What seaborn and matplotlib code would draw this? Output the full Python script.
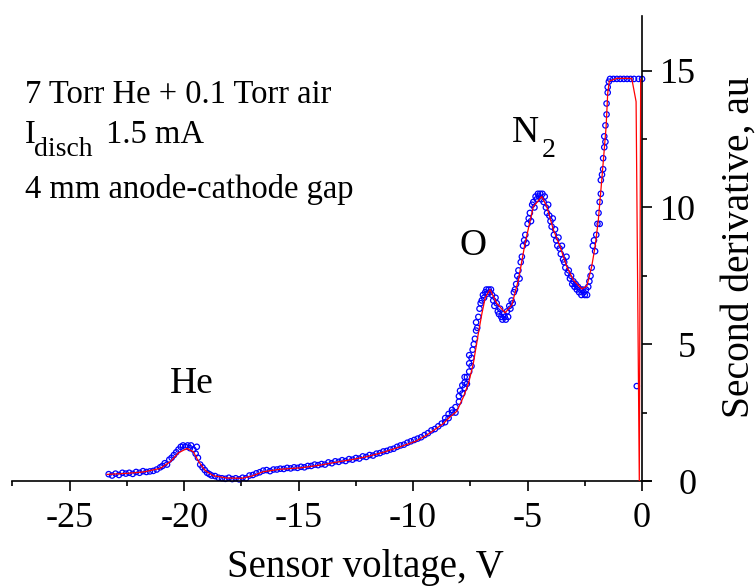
import matplotlib
matplotlib.use("Agg")
import matplotlib.pyplot as plt
from matplotlib.ticker import MultipleLocator
import seaborn as sns

# ---------------- data ----------------
# smoothed curve (red line)
red_v = [-23.38, -22.5, -21.78, -21.05, -20.6, -20.25, -19.88, -19.6, -19.37, -19.08,
         -18.72, -18.14, -17.48, -17.05, -16.54, -15.81, -14.93, -14.06, -13.48, -12.7,
         -12.02, -11.3, -10.57, -9.9, -9.4, -8.68, -8.38, -8.09, -7.8, -7.58,
         -7.37, -7.15, -7.0, -6.85, -6.64, -6.35, -5.98, -5.69, -5.4, -5.11,
         -4.75, -4.38, -4.16, -3.87, -3.58, -3.29, -3.0, -2.63, -2.41, -2.2,
         -2.05, -1.91, -1.76, -1.57, -1.5, -1.43, -1.1, -0.45, -0.26, -0.12, -0.06]
red_y = [0.24, 0.28, 0.33, 0.46, 0.71, 1.03, 1.19, 1.07, 0.71, 0.38,
         0.19, 0.11, 0.10, 0.18, 0.34, 0.43, 0.48, 0.58, 0.67, 0.78,
         0.89, 1.05, 1.25, 1.45, 1.68, 2.1, 2.35, 2.55, 3.08, 3.57,
         4.3, 5.4, 6.1, 6.7, 7.0, 6.5, 6.15, 6.43, 7.35, 8.69,
         10.03, 10.4, 10.03, 9.18, 8.57, 7.84, 7.35, 7.02, 7.13, 7.84,
         8.57, 9.54, 11.0, 12.95, 14.17, 14.62, 14.72, 14.72, 13.87, 0.0, 14.7]

# measured points (blue circles)
blue_v = [-23.3, -23.15, -23.0, -22.85, -22.7, -22.55, -22.4, -22.25, -22.1, -21.95,
          -21.8, -21.65, -21.5, -21.35, -21.2, -21.05, -20.95, -20.85, -20.75, -20.65,
          -20.55, -20.45, -20.35, -20.25, -20.15, -20.05, -19.95, -19.85, -19.75, -19.7,
          -19.6, -19.5, -19.45, -19.4, -19.3, -19.2, -19.1, -19.0, -18.9, -18.8,
          -18.65, -18.5, -18.35, -18.2, -18.05, -17.9, -17.75, -17.6, -17.45, -17.3,
          -17.15, -17.0, -16.85, -16.7, -16.55, -16.4, -16.25, -16.1, -15.95, -15.8,
          -15.65, -15.5, -15.35, -15.2, -15.05, -14.9, -14.75, -14.6, -14.45, -14.3,
          -14.15, -14.0, -13.85, -13.7, -13.55, -13.4, -13.25, -13.1, -12.95, -12.8,
          -12.65, -12.5, -12.35, -12.2, -12.05, -11.9, -11.75, -11.6, -11.45, -11.3,
          -11.15, -11.0, -10.85, -10.7, -10.55, -10.4, -10.25, -10.1, -9.95, -9.8,
          -9.65, -9.5, -9.35, -9.2, -9.05, -8.9, -8.75, -8.6, -8.6, -8.45,
          -8.45, -8.3, -8.3, -8.15, -8.15, -8.0, -8.0, -7.95, -7.85, -7.85,
          -7.75, -7.75, -7.75, -7.65, -7.65, -7.55, -7.55, -7.55, -7.45, -7.45,
          -7.4, -7.35, -7.3, -7.25, -7.25, -7.2, -7.15, -7.1, -7.05, -7.0,
          -6.95, -6.9, -6.85, -6.8, -6.75, -6.7, -6.65, -6.6, -6.55, -6.5,
          -6.45, -6.4, -6.35, -6.3, -6.25, -6.2, -6.15, -6.1, -6.05, -6.0,
          -5.95, -5.9, -5.85, -5.8, -5.75, -5.7, -5.65, -5.6, -5.55, -5.5,
          -5.45, -5.4, -5.35, -5.3, -5.25, -5.2, -5.15, -5.1, -5.05, -5.0,
          -4.95, -4.9, -4.85, -4.8, -4.75, -4.7, -4.65, -4.6, -4.55, -4.5,
          -4.45, -4.4, -4.35, -4.3, -4.25, -4.2, -4.15, -4.1, -4.05, -4.0,
          -3.95, -3.9, -3.85, -3.8, -3.75, -3.7, -3.65, -3.6, -3.55, -3.5,
          -3.45, -3.4, -3.35, -3.3, -3.25, -3.2, -3.15, -3.1, -3.05, -3.0,
          -2.95, -2.9, -2.85, -2.8, -2.75, -2.7, -2.65, -2.6, -2.55, -2.5,
          -2.45, -2.4, -2.35, -2.3, -2.25, -2.2, -2.15, -2.1, -2.05, -2.0,
          -1.95, -1.9, -1.85, -1.85, -1.8, -1.8, -1.75, -1.7, -1.7, -1.65,
          -1.65, -1.6, -1.6, -1.55, -1.55, -1.5, -1.5, -1.45, -1.4, -1.25,
          -1.1, -0.95, -0.8, -0.65, -0.5, -0.35, -0.23, -0.15, 0.0]
blue_y = [0.25, 0.2, 0.27, 0.22, 0.3, 0.27, 0.3, 0.26, 0.33, 0.3,
          0.36, 0.33, 0.35, 0.37, 0.42, 0.5, 0.55, 0.65, 0.6, 0.78,
          0.85, 0.95, 1.05, 1.15, 1.25, 1.3, 1.25, 1.3, 1.2, 1.3,
          1.15, 1.0, 1.25, 0.85, 0.6, 0.5, 0.4, 0.3, 0.25, 0.2,
          0.18, 0.12, 0.1, 0.08, 0.12, 0.07, 0.1, 0.06, 0.12, 0.1,
          0.2, 0.22, 0.28, 0.32, 0.38, 0.4, 0.36, 0.42, 0.42, 0.45,
          0.44, 0.48, 0.46, 0.5, 0.48, 0.52, 0.5, 0.55, 0.55, 0.6,
          0.58, 0.62, 0.6, 0.68, 0.65, 0.72, 0.7, 0.76, 0.73, 0.8,
          0.78, 0.84, 0.82, 0.9, 0.88, 0.95, 0.93, 1.0, 1.02, 1.08,
          1.1, 1.15, 1.18, 1.25, 1.3, 1.33, 1.4, 1.45, 1.5, 1.55,
          1.6, 1.68, 1.75, 1.85, 1.9, 2.0, 2.1, 2.3, 2.15, 2.45,
          2.3, 2.5, 2.6, 2.7, 2.5, 2.9, 3.1, 3.3, 3.2, 3.5,
          3.4, 3.6, 3.8, 3.8, 3.55, 4.0, 4.3, 4.6, 4.2, 4.5,
          4.8, 5.0, 5.2, 5.5, 5.8, 5.6, 6.0, 6.3, 6.5, 6.6,
          6.8, 6.7, 6.9, 7.0, 6.85, 7.0, 6.9, 7.0, 6.8, 6.6,
          6.4, 6.7, 6.5, 6.2, 6.1, 6.3, 6.0, 5.9, 6.1, 6.0,
          5.9, 6.2, 6.0, 6.4, 6.3, 6.6, 6.5, 6.9, 7.0, 7.2,
          7.5, 7.7, 7.4, 8.0, 8.2, 8.6, 8.8, 9.0, 8.7, 9.4,
          9.6, 9.8, 9.5, 10.1, 10.2, 10.0, 10.4, 10.3, 10.5, 10.4,
          10.5, 10.3, 10.5, 10.2, 10.4, 10.0, 9.8, 10.1, 9.7, 9.5,
          9.3, 9.6, 9.0, 9.2, 8.8, 8.6, 8.9, 8.5, 8.3, 8.6,
          8.1, 8.0, 7.8, 8.2, 7.6, 7.7, 7.4, 7.5, 7.2, 7.3,
          7.1, 7.2, 7.0, 7.1, 6.9, 7.0, 6.8, 7.0, 6.9, 6.8,
          7.0, 6.8, 7.1, 7.3, 7.5, 7.8, 8.6, 8.8, 8.4, 9.0,
          9.4, 9.8, 10.2, 9.4, 10.5, 11.0, 11.2, 11.8, 11.4, 12.2,
          12.6, 13.0, 12.4, 13.4, 13.8, 14.2, 14.4, 14.6, 14.7, 14.7,
          14.7, 14.7, 14.7, 14.7, 14.7, 14.7, 3.47, 14.7, 14.7]

x_ticks = [-25, -20, -15, -10, -5, 0]
y_ticks = [0, 5, 10, 15]

# ---------------- style ----------------
sns.set_style("ticks")
plt.rcParams["font.family"] = ["Liberation Serif", "DejaVu Serif"]
plt.rcParams["text.color"] = "black"
plt.rcParams["axes.labelcolor"] = "black"
plt.rcParams["xtick.color"] = "black"
plt.rcParams["ytick.color"] = "black"
plt.rcParams["axes.unicode_minus"] = False

W, H = 756, 586
fig = plt.figure(figsize=(W / 100, H / 100), dpi=100)
ax = fig.add_axes([12.5 / W, (H - 481) / H, (651.2 - 12.5) / W, (481 - 16) / H])

sns.scatterplot(x=blue_v, y=blue_y, ax=ax, marker="o", s=15,
                facecolors="none", edgecolor="#0000ff", linewidth=0.9,
                zorder=2, clip_on=False, legend=False)
sns.lineplot(x=red_v, y=red_y, ax=ax, sort=False, estimator=None,
             color="#ff0000", linewidth=0.9, zorder=3, legend=False)

ax.set_xlim(-27.5, 0.4)
ax.set_ylim(0, 17)
ax.set_xticks(x_ticks)
ax.set_yticks(y_ticks)
ax.xaxis.set_minor_locator(MultipleLocator(2.5))
ax.yaxis.set_minor_locator(MultipleLocator(2.5))
ax.set_xlabel("")
ax.set_ylabel("")

ax.spines["top"].set_visible(False)
ax.spines["left"].set_visible(False)
ax.spines["right"].set_position(("data", 0))
for s in ("bottom", "right"):
    ax.spines[s].set_linewidth(1.2)
    ax.spines[s].set_color("black")
ax.yaxis.tick_right()
ax.tick_params(axis="both", which="major", length=7, width=1.2, direction="out",
               labelsize=26, colors="black")
ax.tick_params(axis="both", which="minor", length=3.5, width=1.2, direction="out")
ax.tick_params(axis="x", pad=8)
ax.tick_params(axis="y", pad=32)
for t in ax.get_yticklabels():
    t.set_horizontalalignment("right")


def fx(px):
    return px / W


def fy(py):
    return 1 - py / H


# axis titles
fig.text(fx(365), fy(577), "Sensor voltage, V", ha="center", va="baseline", fontsize=28)
fig.text(fx(739), fy(247), "Second derivative, au", ha="center", va="center",
         rotation=90, fontsize=28.5)

# annotation text
fig.text(fx(25), fy(103), "7 Torr He + 0.1 Torr air", ha="left", va="baseline", fontsize=23.5)
fig.text(fx(25), fy(143), "I", ha="left", va="baseline", fontsize=23.5)
fig.text(fx(34), fy(156), "disch", ha="left", va="baseline", fontsize=20)
fig.text(fx(106), fy(143), "1.5 mA", ha="left", va="baseline", fontsize=23.5)
fig.text(fx(25), fy(198), "4 mm anode-cathode gap", ha="left", va="baseline", fontsize=23.5)

# peak labels
fig.text(fx(191.5), fy(392.7), "He", ha="center", va="baseline", fontsize=27)
fig.text(fx(473), fy(255), "O", ha="center", va="baseline", fontsize=27)
fig.text(fx(512), fy(142), "N", ha="left", va="baseline", fontsize=27)
fig.text(fx(542), fy(157), "2", ha="left", va="baseline", fontsize=20)

fig.savefig("out.png", dpi=100)
